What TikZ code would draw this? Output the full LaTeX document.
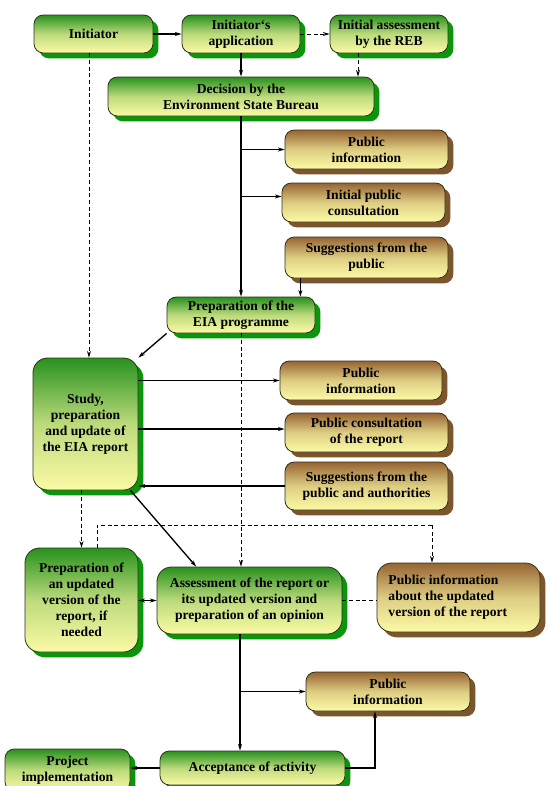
\documentclass[tikz,border=0pt]{standalone}
\usepackage{fontspec}
\setmainfont{Liberation Serif}
\usetikzlibrary{arrows.meta,shadows}

\definecolor{gtop}{RGB}{40,145,30}
\definecolor{btop}{RGB}{150,100,50}
\definecolor{ylw}{RGB}{252,250,165}
\definecolor{gshade}{RGB}{10,150,10}
\definecolor{bshade}{RGB}{125,85,45}
\definecolor{edge}{RGB}{45,50,25}

\begin{document}
\begin{tikzpicture}[x=0.75pt,y=0.75pt,yscale=-1,xscale=1,
	box/.style={draw=edge,line width=0.6pt,rounded corners=7pt,align=center,inner sep=0pt,
		font=\bfseries\fontsize{10.2}{12}\selectfont,bottom color=ylw},
	greenbox/.style={box,top color=gtop,middle color=ylw!70!gtop,
		drop shadow={shadow xshift=4pt,shadow yshift=-4pt,fill=gshade,opacity=1}},
	brownbox/.style={box,top color=btop,middle color=ylw!70!btop,
		drop shadow={shadow xshift=4pt,shadow yshift=-4pt,fill=bshade,opacity=1}},
	conn/.style={line width=1pt,-{Stealth[length=5pt,width=3pt]}},
	dconn/.style={line width=0.6pt,dash pattern={on 3pt off 2pt}}
	]
	\useasboundingbox (0,0) rectangle (550,786);
	\fill[white] (0,0) rectangle (550,786);
	
	% Top row
	\node[greenbox,minimum width=89.25pt,minimum height=28.5pt] (init) at (93.5,34) {Initiator};
	\node[greenbox,minimum width=88.5pt,minimum height=28.5pt] (app) at (241,34) {Initiator`s\\application};
	\node[greenbox,minimum width=88.5pt,minimum height=28.5pt] (reb) at (389,34) {Initial assessment\\by the REB};
	\node[greenbox,minimum width=199.5pt,minimum height=29.25pt] (decision) at (241,96.5) {Decision by the\\Environment State Bureau};
	
	% Public participation, first stage
	\node[brownbox,minimum width=122.25pt,minimum height=29.25pt] (pubinfoA) at (366.5,149.5) {Public\\information};
	\node[brownbox,minimum width=122.25pt,minimum height=29.25pt] (initcons) at (363.5,202.5) {Initial public\\consultation};
	\node[brownbox,minimum width=122.25pt,minimum height=30.75pt] (suggA) at (366.5,257.5) {Suggestions from the\\public};
	\node[greenbox,minimum width=111pt,minimum height=27pt] (eiaprog) at (241,315) {Preparation of the\\EIA programme};
	
	% EIA report
	\node[greenbox,rounded corners=11pt,minimum width=78.75pt,minimum height=99pt] (study) at (85.5,424) {Study,\\preparation\\and update of\\the EIA report};
	\node[brownbox,minimum width=121.5pt,minimum height=29.25pt] (pubinfoB) at (361,380.5) {Public\\information};
	\node[brownbox,minimum width=122.25pt,minimum height=29.25pt] (repcons) at (366.5,432.5) {Public consultation\\of the report};
	\node[brownbox,minimum width=122.25pt,minimum height=36pt] (suggB) at (366.5,486) {Suggestions from the\\public and authorities};
	
	% Assessment
	\node[greenbox,rounded corners=11pt,minimum width=84.75pt,minimum height=78pt] (update) at (81.5,600) {Preparation of\\an updated\\version of the\\report, if\\needed};
	\node[greenbox,rounded corners=11pt,minimum width=138.75pt,minimum height=50.25pt] (assess) at (249.5,600.5) {Assessment of the report or\\its updated version and\\preparation of an opinion};
	\node[brownbox,rounded corners=11pt,align=left,minimum width=122.25pt,minimum height=51.75pt] (pubinfoU) at (458.5,597.5) {Public information\\about the updated\\version of the report\hspace*{16pt}};
	
	% Decision on the activity
	\node[brownbox,minimum width=123pt,minimum height=29.25pt] (pubinfoC) at (388,691.5) {Public\\information};
	\node[greenbox,minimum width=138.75pt,minimum height=25.5pt] (accept) at (252.5,768) {Acceptance of activity};
	\node[greenbox,minimum width=93.75pt,minimum height=31.5pt] (project) at (67.5,770) {Project\\implementation};
	
	\coordinate (spine) at (240,0);
	\coordinate (jl) at (97,525);
	\coordinate (jr) at (432,525);
	
	% Connectors
	\draw[conn] (init) -- (app);
	\draw[dconn,-{Stealth[length=5pt,width=3pt]}] (app.east) -- (reb.west);
	\draw[conn] (app) -- (decision);
	\draw[dconn,-{Stealth[length=5pt,width=3pt]}] ([xshift=-23.25pt]reb.south) -- ([xshift=-23.25pt]reb.south |- decision.north);
	\draw[conn] (decision) -- (eiaprog);
	\draw[conn] (decision.south |- pubinfoA) -- (pubinfoA);
	\draw[conn] ([yshift=-4.5pt]decision.south |- initcons) -- ([yshift=-4.5pt]initcons.west);
	\draw[conn] ([xshift=-11.25pt]eiaprog.north east |- suggA.south) -- ([xshift=-11.25pt]eiaprog.north east);
	\draw[dconn,-{Stealth[length=5pt,width=3pt]}] ([xshift=-3.4pt]init.south) -- ([xshift=-3.4pt]init.south |- study.north);
	\draw[conn] (eiaprog.south west) -- (study.north east);
	\draw[conn] (study.east |- pubinfoB) -- (pubinfoB);
	\draw[conn] ([yshift=-2.6pt]study.east |- repcons) -- ([yshift=-2.6pt]repcons.west);
	\draw[conn] (suggB) -- (study.east |- suggB);
	\draw[dconn,-{Stealth[length=5pt,width=3pt]}] (update.north |- study.south) -- (update.north);
	\draw[dconn,-{Stealth[length=5pt,width=3pt]}] (eiaprog.south) -- (eiaprog.south |- assess.north);
	\draw[dconn] (jl |- update.north) -- (jl) -- (jr);
	\draw[dconn,-{Stealth[length=5pt,width=3pt]}] (jr) -- (jr |- pubinfoU.north);
	\draw[conn] ([xshift=-6pt]study.south east) -- ([xshift=-40pt]assess.north);
	\draw[line width=1pt,{Stealth[length=5pt,width=3pt]}-{Stealth[length=5pt,width=3pt]}] (update.east |- assess) -- (assess.west);
	\draw[dconn] (assess.east) -- (assess.east -| pubinfoU.west);
	\draw[conn] (assess.south -| spine) -- (accept.north -| spine);
	\draw[conn] (spine |- pubinfoC) -- (pubinfoC);
	\draw[conn] (accept.west) -- (accept.west -| project.east);
	\draw[conn] (accept.east) -| ([xshift=-9.75pt]pubinfoC.south);
	
\end{tikzpicture}
\end{document}
